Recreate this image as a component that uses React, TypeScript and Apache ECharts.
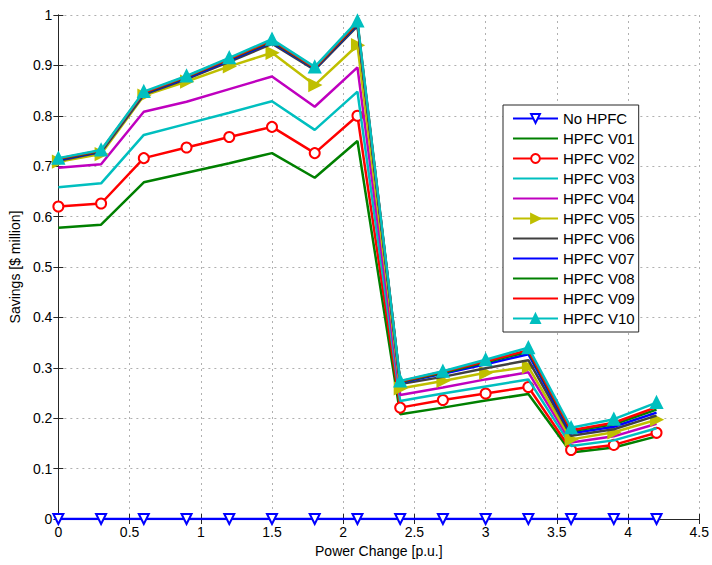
import React, { useEffect, useRef } from "react";
import * as echarts from "echarts";

// Power change steps [p.u.]
const powerChange = [0, 0.3, 0.6, 0.9, 1.2, 1.5, 1.8, 2.1, 2.4, 2.7, 3.0, 3.3, 3.6, 3.9, 4.2];

// Savings [$ million] per configuration
const noHpfc = [0, 0, 0, 0, 0, 0, 0, 0, 0, 0, 0, 0, 0, 0, 0];
const v01 = [0.578, 0.584, 0.668, 0.687, 0.706, 0.726, 0.677, 0.750, 0.208, 0.221, 0.235, 0.248, 0.132, 0.142, 0.164];
const v02 = [0.620, 0.626, 0.716, 0.737, 0.758, 0.778, 0.726, 0.800, 0.221, 0.236, 0.249, 0.262, 0.137, 0.147, 0.171];
const v03 = [0.658, 0.666, 0.762, 0.784, 0.806, 0.829, 0.772, 0.848, 0.234, 0.249, 0.263, 0.277, 0.145, 0.156, 0.180];
const v04 = [0.697, 0.704, 0.808, 0.828, 0.853, 0.878, 0.818, 0.896, 0.246, 0.261, 0.277, 0.291, 0.152, 0.164, 0.189];
const v05 = [0.709, 0.724, 0.840, 0.868, 0.898, 0.925, 0.861, 0.940, 0.259, 0.274, 0.290, 0.302, 0.158, 0.172, 0.197];
const v06 = [0.711, 0.728, 0.842, 0.873, 0.907, 0.943, 0.891, 0.978, 0.268, 0.282, 0.299, 0.315, 0.165, 0.178, 0.205];
const v07 = [0.713, 0.729, 0.844, 0.875, 0.910, 0.946, 0.893, 0.981, 0.271, 0.288, 0.307, 0.327, 0.170, 0.183, 0.211];
const v08 = [0.714, 0.730, 0.845, 0.877, 0.912, 0.948, 0.894, 0.983, 0.272, 0.290, 0.311, 0.332, 0.174, 0.188, 0.217];
const v09 = [0.715, 0.731, 0.846, 0.878, 0.913, 0.950, 0.895, 0.985, 0.273, 0.292, 0.313, 0.335, 0.176, 0.191, 0.222];
const v10 = [0.716, 0.732, 0.848, 0.879, 0.915, 0.952, 0.897, 0.988, 0.274, 0.293, 0.316, 0.340, 0.181, 0.198, 0.231];

const seriesNames = [
  "No HPFC", "HPFC V01", "HPFC V02", "HPFC V03", "HPFC V04", "HPFC V05",
  "HPFC V06", "HPFC V07", "HPFC V08", "HPFC V09", "HPFC V10",
];
const seriesValues = [noHpfc, v01, v02, v03, v04, v05, v06, v07, v08, v09, v10];
const seriesColors = [
  "#0000ff", "#008000", "#ff0000", "#00bfbf", "#bf00bf", "#bfbf00",
  "#404040", "#0000ff", "#008000", "#ff0000", "#00bfbf",
];
// marker per series: [symbol, rotate, size]
const seriesMarkers: Array<[string, number, number]> = [
  ["emptyTriangle", 180, 10],
  ["none", 0, 0],
  ["emptyCircle", 0, 10],
  ["none", 0, 0],
  ["none", 0, 0],
  ["triangle", -90, 11],
  ["none", 0, 0],
  ["none", 0, 0],
  ["none", 0, 0],
  ["none", 0, 0],
  ["triangle", 0, 11],
];

const FONT = "'Liberation Sans', Arial, sans-serif";

export default function App() {
  const ref = useRef<HTMLDivElement>(null);

  useEffect(() => {
    if (!ref.current) return;
    const chart = echarts.init(ref.current, undefined, { renderer: "svg" });

    const series = seriesNames.map((name, i) => {
      const [symbol, rotate, size] = seriesMarkers[i];
      return {
        name,
        type: "line",
        data: powerChange.map((x, j) => [x, seriesValues[i][j]]),
        symbol,
        symbolRotate: rotate,
        symbolSize: size,
        showSymbol: symbol !== "none",
        lineStyle: { color: seriesColors[i], width: 2.5 },
        itemStyle: { color: seriesColors[i], borderColor: seriesColors[i], borderWidth: 2 },
        emphasis: { disabled: true },
        z: 2 + (i === 0 ? 20 : i),
      };
    });

    // legend entries: plain line for series drawn without markers
    const legendData = seriesNames.map((name, i) =>
      seriesMarkers[i][0] === "none"
        ? { name, itemStyle: { color: "rgba(0,0,0,0)", borderWidth: 0, opacity: 0 } }
        : { name }
    );

    const axisLine = { show: true, lineStyle: { color: "#262626", width: 1 } };
    const tick = { show: true, inside: true, length: 5, lineStyle: { color: "#262626" } };

    chart.setOption({
      animation: false,
      backgroundColor: "#ffffff",
      grid: { left: 58, right: 12, top: 15, bottom: 46, containLabel: false },
      legend: {
        orient: "vertical",
        left: 503,
        top: 105,
        itemWidth: 45,
        itemHeight: 11,
        itemGap: 5,
        padding: [6, 4, 6, 9],
        borderColor: "#262626",
        borderWidth: 1,
        backgroundColor: "#ffffff",
        textStyle: { fontFamily: FONT, fontSize: 15, color: "#000" },
        data: legendData,
      },
      xAxis: [
        {
          type: "value",
          min: 0,
          max: 4.5,
          interval: 0.5,
          name: "Power Change [p.u.]",
          nameLocation: "middle",
          nameGap: 24,
          nameTextStyle: { fontFamily: FONT, fontSize: 14, color: "#000" },
          axisLine,
          axisTick: tick,
          axisLabel: { fontFamily: FONT, fontSize: 14, color: "#000", margin: 6 },
          splitLine: { show: true, lineStyle: { color: "#b0b0b0", type: [2, 4], width: 1 } },
        },
        {
          type: "value",
          position: "top",
          min: 0,
          max: 4.5,
          interval: 0.5,
          axisLine,
          axisTick: tick,
          axisLabel: { show: false },
          splitLine: { show: false },
        },
      ],
      yAxis: [
        {
          type: "value",
          min: 0,
          max: 1,
          interval: 0.1,
          name: "Savings [$ million]",
          nameLocation: "middle",
          nameGap: 25,
          nameTextStyle: { fontFamily: FONT, fontSize: 14, color: "#000" },
          axisLine,
          axisTick: tick,
          axisLabel: { fontFamily: FONT, fontSize: 14, color: "#000", margin: 6 },
          splitLine: { show: true, lineStyle: { color: "#b0b0b0", type: [2, 4], width: 1 } },
        },
        {
          type: "value",
          position: "right",
          min: 0,
          max: 1,
          interval: 0.1,
          axisLine,
          axisTick: tick,
          axisLabel: { show: false },
          splitLine: { show: false },
        },
      ],
      series,
    });

    return () => chart.dispose();
  }, []);

  return (
    <div
      ref={ref}
      style={{ position: "fixed", left: 0, top: 0, width: 712, height: 565, background: "#fff" }}
    />
  );
}
